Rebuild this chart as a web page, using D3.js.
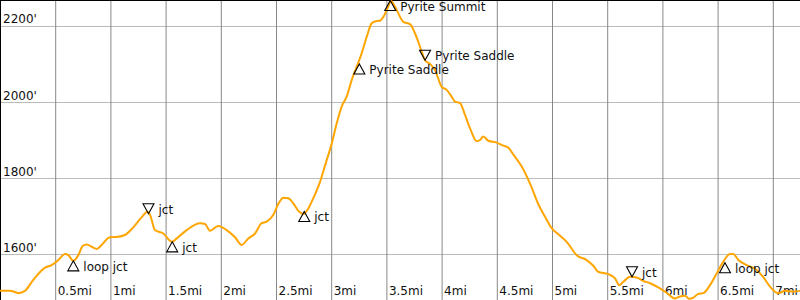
<!DOCTYPE html>
<html>
<head>
<meta charset="utf-8">
<script src="https://cdn.jsdelivr.net/npm/d3@7"></script>
<style>
  html, body { margin: 0; padding: 0; background: #fff; }
  svg { display: block; font-family: "DejaVu Sans", sans-serif; font-size: 12px; }
</style>
</head>
<body>
<svg id="chart" width="800" height="300"></svg>
<script>
// distance (miles) along trail
const distances = [0.00,0.09,0.136,0.166,0.226,0.302,0.408,0.468,0.528,0.589,0.619,0.664,0.709,0.749,0.785,0.831,0.876,0.921,0.996,1.057,1.132,1.207,1.284,1.336,1.359,1.404,1.479,1.558,1.601,1.691,1.812,1.857,1.902,1.977,2.053,2.129,2.189,2.249,2.310,2.370,2.416,2.476,2.521,2.566,2.611,2.657,2.711,2.750,2.793,2.838,2.899,2.959,3.005,3.050,3.095,3.140,3.186,3.231,3.276,3.322,3.367,3.412,3.442,3.472,3.517,3.540,3.593,3.653,3.714,3.759,3.804,3.850,3.895,3.940,4.001,4.046,4.091,4.121,4.167,4.212,4.257,4.318,4.348,4.378,4.423,4.499,4.559,4.604,4.649,4.726,4.801,4.876,4.937,4.997,5.057,5.133,5.224,5.314,5.374,5.419,5.510,5.571,5.610,5.646,5.707,5.767,5.827,5.888,5.963,6.039,6.114,6.159,6.205,6.244,6.280,6.325,6.371,6.431,6.492,6.552,6.612,6.642,6.688,6.764,6.854,6.914,6.975,7.050,7.111,7.186,7.246];
// elevation (feet)
const elevations = [1503,1503,1500,1497,1503,1532,1564,1571,1584,1600,1597,1582,1597,1621,1625,1619,1613,1624,1644,1645,1650,1670,1697,1711,1703,1663,1654,1632,1641,1663,1681,1679,1661,1674,1663,1644,1624,1641,1654,1681,1685,1703,1732,1748,1747,1733,1711,1705,1720,1747,1790,1847,1891,1944,1988,2014,2058,2093,2128,2172,2207,2213,2214,2224,2251,2266,2242,2211,2205,2181,2146,2110,2100,2084,2040,2032,2014,2001,1997,1966,1931,1897,1900,1909,1898,1893,1885,1880,1862,1830,1785,1731,1698,1668,1652,1632,1597,1584,1569,1553,1547,1536,1518,1527,1540,1538,1529,1523,1512,1498,1483,1488,1490,1482,1485,1495,1497,1518,1549,1580,1600,1600,1584,1571,1558,1539,1514,1497,1503,1501,1503];

// waypoints
const markerMiles = [0.664, 1.345, 1.560, 2.756, 3.255, 3.535, 3.850, 5.725, 6.567];
const markerElevations = [1582, 1706, 1632, 1712, 2100, 2267, 2110, 1540, 1577];
const markerDirections = ["up", "down", "up", "up", "up", "up", "down", "down", "up"];
const markerLabels = ["loop jct", "jct", "jct", "jct", "Pyrite Saddle", "Pyrite Summit", "Pyrite Saddle", "jct", "loop jct"];

// axis ticks
const xTickValues = [0.5, 1, 1.5, 2, 2.5, 3, 3.5, 4, 4.5, 5, 5.5, 6, 6.5, 7];
const xTickLabels = ["0.5mi", "1mi", "1.5mi", "2mi", "2.5mi", "3mi", "3.5mi", "4mi", "4.5mi", "5mi", "5.5mi", "6mi", "6.5mi", "7mi"];
const yTickValues = [1600, 1800, 2000, 2200];
const yTickLabels = ["1600'", "1800'", "2000'", "2200'"];

const W = 800, H = 300;
const svg = d3.select("#chart");

const x = d3.scaleLinear().domain([0, 800 / 110.4]).range([0, W]);
const y = d3.scaleLinear().domain([1478.95, 2268.42]).range([H, 0]);

// horizontal grid (y axis)
const yAxis = d3.axisLeft(y)
  .tickValues(yTickValues)
  .tickSize(-W)
  .tickFormat((d, i) => yTickLabels[i]);
const gy = svg.append("g").attr("class", "y-axis").call(yAxis);
gy.select(".domain").remove();
gy.selectAll(".tick line").attr("stroke", "#bbbbbb").attr("stroke-width", 1);
gy.selectAll(".tick text")
  .attr("x", 3).attr("y", -3).attr("dy", null)
  .attr("text-anchor", "start")
  .attr("fill", "#111")
  .style("font-family", "DejaVu Sans, sans-serif")
  .style("font-size", "12px");

// vertical grid (x axis)
const xAxis = d3.axisBottom(x)
  .tickValues(xTickValues)
  .tickSize(-H)
  .tickFormat((d, i) => xTickLabels[i]);
const gx = svg.append("g").attr("class", "x-axis").attr("transform", `translate(0,${H})`).call(xAxis);
gx.select(".domain").remove();
gx.selectAll(".tick line").attr("stroke", "#888888").attr("stroke-width", 1);
gx.selectAll(".tick text")
  .attr("x", 2).attr("y", -5).attr("dy", null)
  .attr("text-anchor", "start")
  .attr("fill", "#111")
  .style("font-family", "DejaVu Sans, sans-serif")
  .style("font-size", "12px");

// border top & left
svg.append("line").attr("x1", 0).attr("x2", W).attr("y1", 0.5).attr("y2", 0.5).attr("stroke", "#000");
svg.append("line").attr("x1", 0.5).attr("x2", 0.5).attr("y1", 0).attr("y2", H).attr("stroke", "#000");

// elevation profile
const pts = distances.map((d, i) => [d, elevations[i]]);
const line = d3.line().x(d => x(d[0])).y(d => y(d[1])).curve(d3.curveMonotoneX);
svg.append("path")
  .datum(pts)
  .attr("d", line)
  .attr("fill", "none")
  .attr("stroke", "#ffa500")
  .attr("stroke-width", 2)
  .attr("stroke-linejoin", "round");

// markers
const markers = markerMiles.map((m, i) => ({
  mi: m, ele: markerElevations[i], dir: markerDirections[i], label: markerLabels[i]
}));
const mg = svg.append("g").selectAll("g").data(markers).join("g")
  .attr("transform", d => `translate(${x(d.mi)},${y(d.ele)})`);
mg.append("path")
  .attr("d", d => d.dir === "up"
    ? "M0,0 L5.5,10 L-5.5,10 Z"
    : "M0,0 L5.5,-10 L-5.5,-10 Z")
  .attr("fill", "none")
  .attr("stroke", "#000")
  .attr("stroke-width", 1.1)
  .attr("stroke-linejoin", "miter");
mg.append("text")
  .attr("x", 10)
  .attr("y", d => d.dir === "up" ? 10 : 0)
  .attr("fill", "#111")
  .text(d => d.label);
</script>
</body>
</html>
